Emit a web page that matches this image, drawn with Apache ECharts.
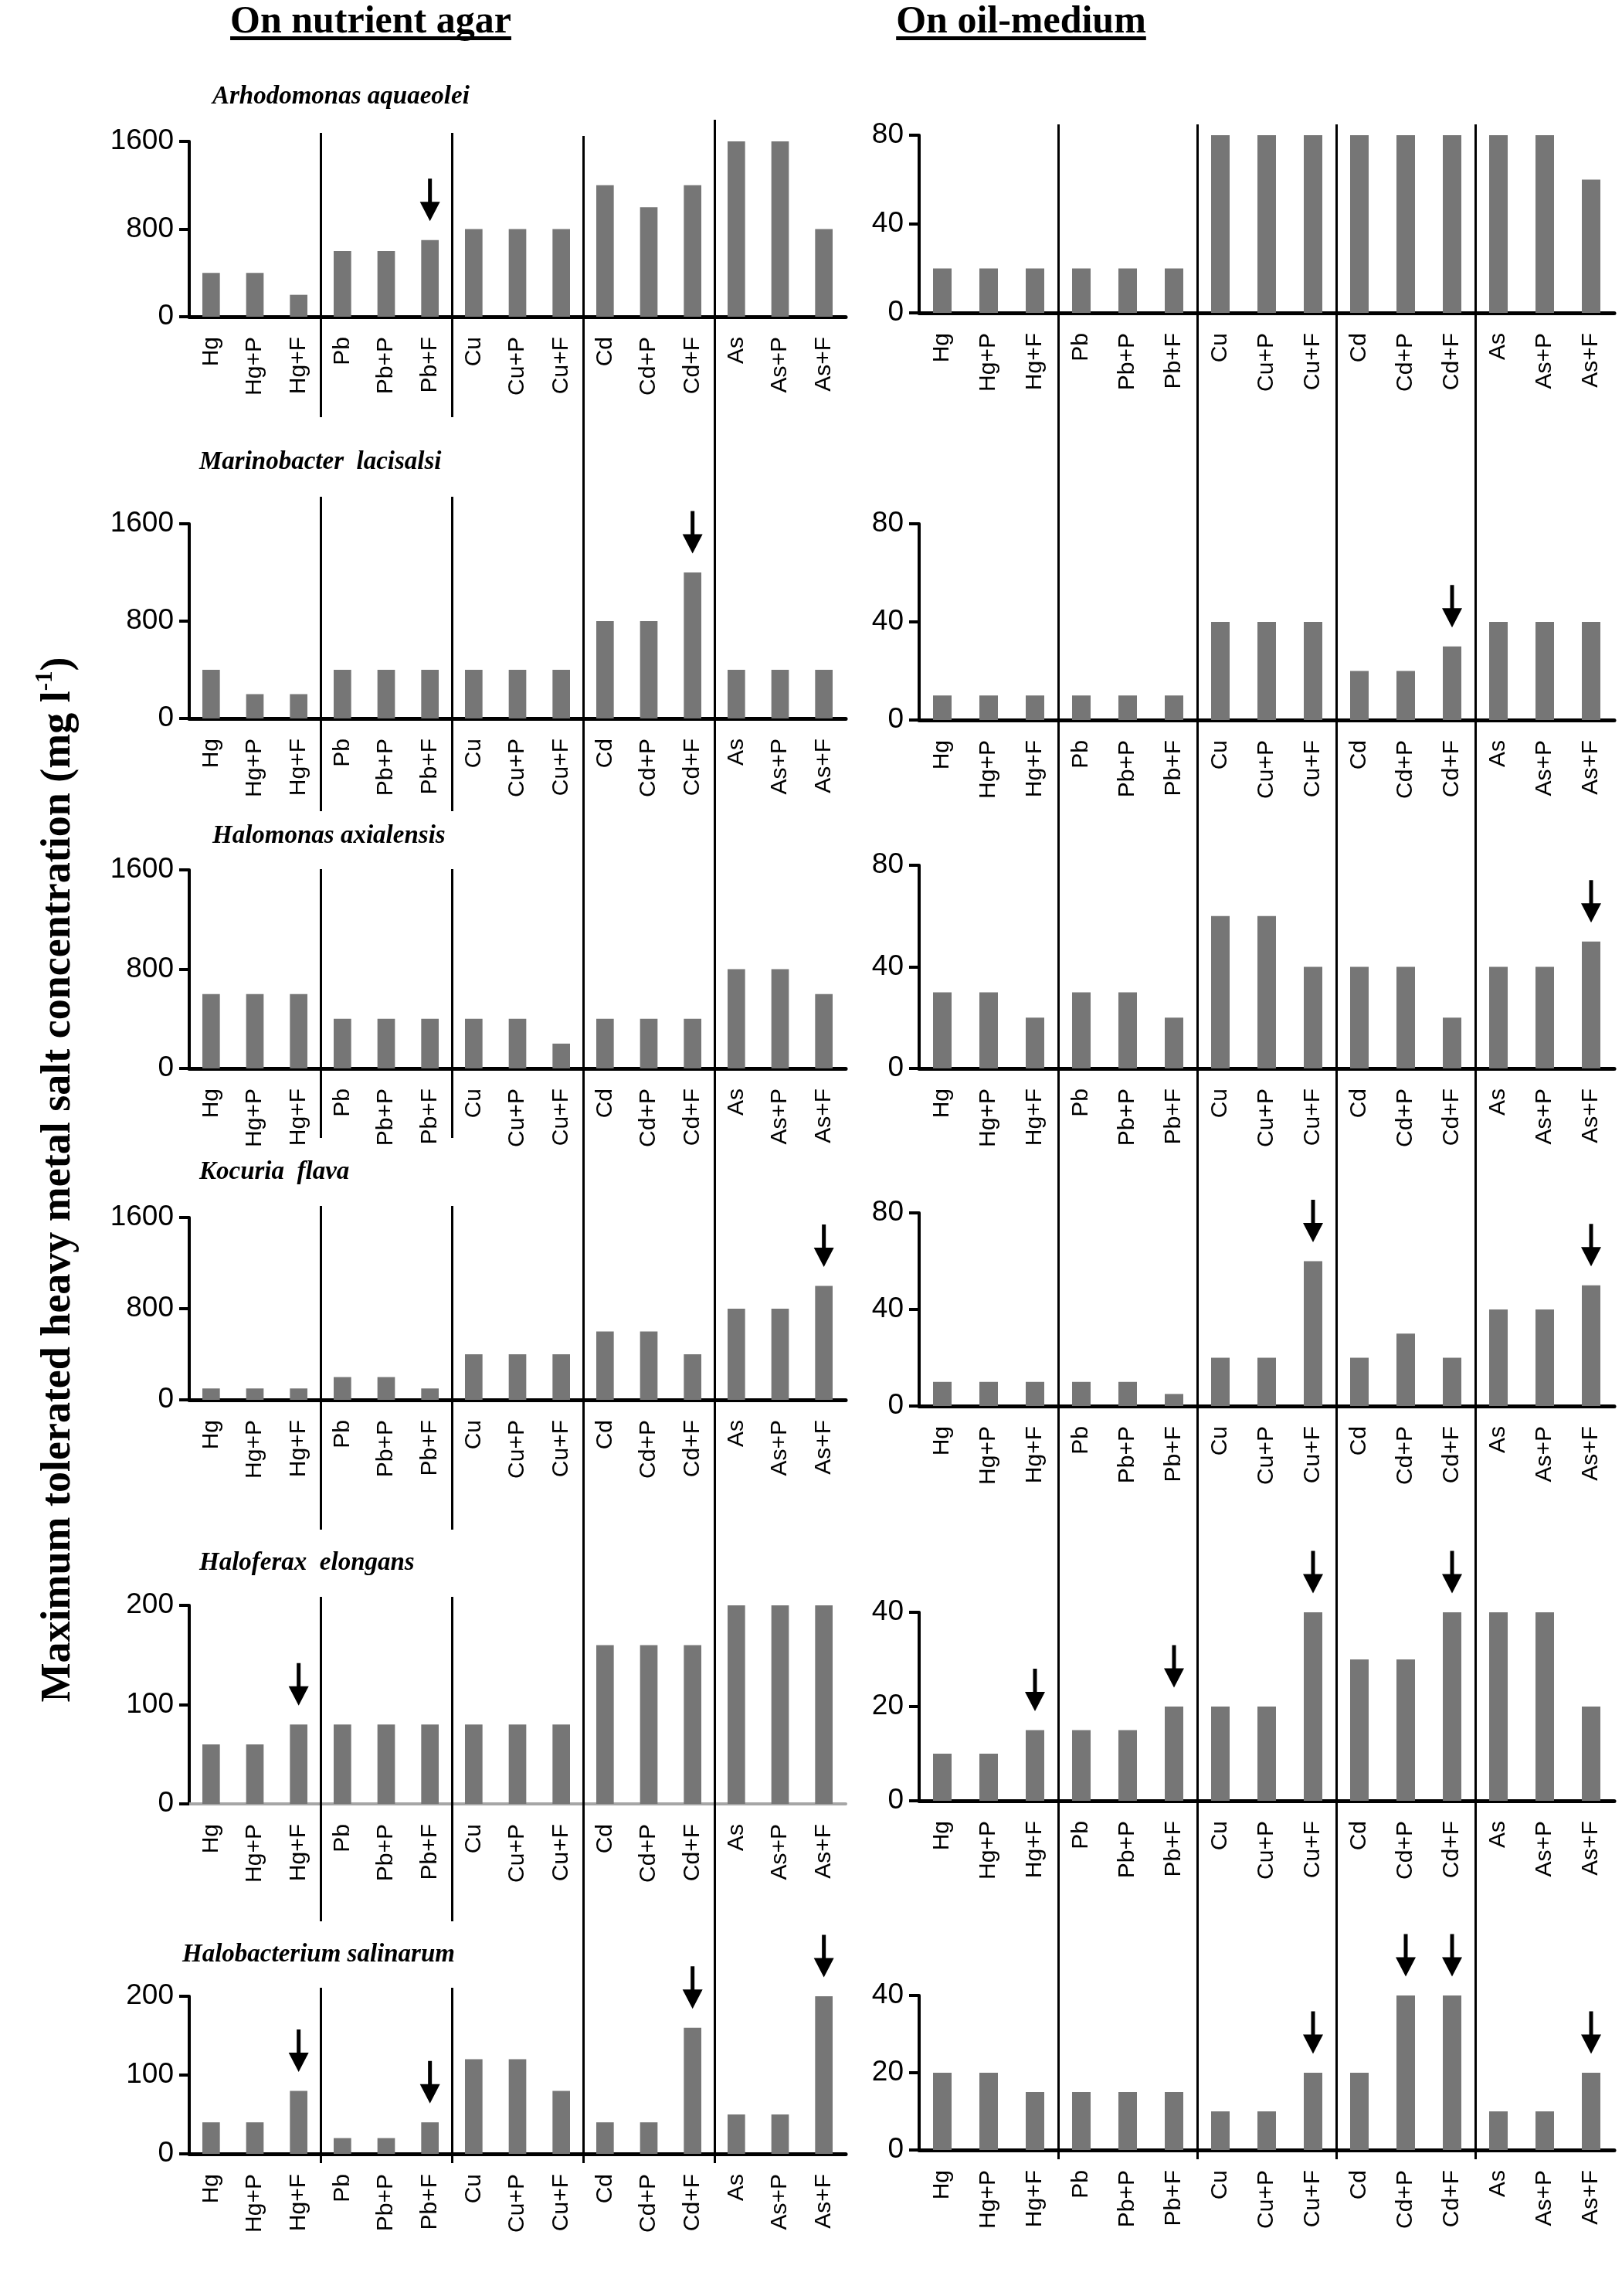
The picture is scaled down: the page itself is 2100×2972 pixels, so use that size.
<!DOCTYPE html>
<html>
<head>
<meta charset="utf-8">
<title>Maximum tolerated heavy metal salt concentration</title>
<style>
  html, body { margin: 0; padding: 0; background: #fff; }
  #main { width: 2100px; height: 2972px; }
</style>
<script src="https://cdn.jsdelivr.net/npm/echarts/dist/echarts.min.js"></script>
</head>
<body>
<div id="main"></div>
<script>
// categories (same for every panel)
var cats = ['Hg', 'Hg+P', 'Hg+F', 'Pb', 'Pb+P', 'Pb+F', 'Cu', 'Cu+P', 'Cu+F',
            'Cd', 'Cd+P', 'Cd+F', 'As', 'As+P', 'As+F'];

var species = ['Arhodomonas aquaeolei', 'Marinobacter  lacisalsi', 'Halomonas axialensis',
               'Kocuria  flava', 'Haloferax  elongans', 'Halobacterium salinarum'];

// On nutrient agar
var agar1 = [400, 400, 200, 600, 600, 700, 800, 800, 800, 1200, 1000, 1200, 1600, 1600, 800];
var agar2 = [400, 200, 200, 400, 400, 400, 400, 400, 400, 800, 800, 1200, 400, 400, 400];
var agar3 = [600, 600, 600, 400, 400, 400, 400, 400, 200, 400, 400, 400, 800, 800, 600];
var agar4 = [100, 100, 100, 200, 200, 100, 400, 400, 400, 600, 600, 400, 800, 800, 1000];
var agar5 = [60, 60, 80, 80, 80, 80, 80, 80, 80, 160, 160, 160, 200, 200, 200];
var agar6 = [40, 40, 80, 20, 20, 40, 120, 120, 80, 40, 40, 160, 50, 50, 200];

// On oil-medium
var oil1 = [20, 20, 20, 20, 20, 20, 80, 80, 80, 80, 80, 80, 80, 80, 60];
var oil2 = [10, 10, 10, 10, 10, 10, 40, 40, 40, 20, 20, 30, 40, 40, 40];
var oil3 = [30, 30, 20, 30, 30, 20, 60, 60, 40, 40, 40, 20, 40, 40, 50];
var oil4 = [10, 10, 10, 10, 10, 5, 20, 20, 60, 20, 30, 20, 40, 40, 50];
var oil5 = [10, 10, 15, 15, 15, 20, 20, 20, 40, 30, 30, 40, 40, 40, 20];
var oil6 = [20, 20, 15, 15, 15, 15, 10, 10, 20, 20, 40, 40, 10, 10, 20];

// bars marked with an arrow
var agarArrows = [['Pb+F'], ['Cd+F'], [], ['As+F'], ['Hg+F'], ['Hg+F', 'Pb+F', 'Cd+F', 'As+F']];
var oilArrows = [[], ['Cd+F'], ['As+F'], ['Cu+F', 'As+F'], ['Hg+F', 'Pb+F', 'Cu+F', 'Cd+F'],
                 ['Cu+F', 'Cd+P', 'Cd+F', 'As+F']];

// y axis maxima
var agarMax = [1600, 1600, 1600, 1600, 200, 200];
var oilMax = [80, 80, 80, 80, 40, 40];

var agarData = [agar1, agar2, agar3, agar4, agar5, agar6];
var oilData = [oil1, oil2, oil3, oil4, oil5, oil6];

// ---- layout (pixels) ----
var colL = {x: 245, w: 850}, colR = {x: 1190, w: 900};
var agarRows = [[183, 410], [678, 930], [1126, 1383], [1576, 1812], [2078, 2335], [2584, 2788]];
var oilRows = [[175, 405], [678, 932], [1120, 1383], [1570, 1820], [2087, 2331], [2583, 2783]];
var sepRowsL = [[172, 540], [643, 1050], [1125, 1473], [1561, 1980], [2067, 2487], [2573, 2800]];
var speciesPos = [[275, 125], [258, 598], [275, 1082], [258, 1517], [258, 2023], [236, 2530]];

var ARROW = 'path://M10.5,0 L15.5,0 L15.5,30 L26,30 L13,55 L0,30 L10.5,30 Z';

var grid = [], xAxis = [], yAxis = [], series = [], graphic = [];

function addPanel(col, rowY, vals, max, arrows, grayAxis) {
  var idx = grid.length;
  var axColor = grayAxis ? '#a6a6a6' : '#000';
  grid.push({
    left: col.x, top: rowY[0], width: col.w, height: rowY[1] - rowY[0],
    containLabel: false, outerBoundsMode: 'none'
  });
  xAxis.push({
    gridIndex: idx, type: 'category', data: cats,
    axisLine: {lineStyle: {color: axColor, width: grayAxis ? 4 : 5}},
    axisTick: {length: 13, lineStyle: {color: axColor, width: 4}},
    axisLabel: {interval: 0, rotate: 90, fontSize: 30, fontFamily: 'Liberation Sans', color: '#000', margin: 26},
    splitLine: {show: false}
  });
  yAxis.push({
    gridIndex: idx, type: 'value', min: 0, max: max, interval: max / 2,
    axisLine: {show: true, lineStyle: {color: '#000', width: 4}},
    axisTick: {show: true, length: 13, lineStyle: {color: '#000', width: 4}},
    axisLabel: {
      fontSize: 37, fontFamily: 'Liberation Sans', color: '#000', margin: 20,
      formatter: function(v){ return String(v); }
    },
    splitLine: {show: false}
  });
  series.push({
    type: 'bar', xAxisIndex: idx, yAxisIndex: idx, data: vals,
    barWidth: '40%', itemStyle: {color: '#767676'},
    markPoint: {
      symbol: ARROW, symbolSize: [26, 55], symbolOffset: [0, -52], symbolKeepAspect: false,
      itemStyle: {color: '#000'}, label: {show: false}, silent: true,
      data: arrows.map(function(c){
        return {coord: [c, vals[cats.indexOf(c)]]};
      })
    }
  });
}

// vertical group separators, drawn on a hidden 0..15 axis laid over the panel
function addSeps(col, y0, y1, xs) {
  var idx = grid.length;
  grid.push({left: col.x, top: y0, width: col.w, height: y1 - y0, outerBoundsMode: 'none'});
  xAxis.push({gridIndex: idx, type: 'value', min: 0, max: 15, show: false});
  yAxis.push({gridIndex: idx, type: 'value', min: 0, max: 1, show: false});
  series.push({
    type: 'line', xAxisIndex: idx, yAxisIndex: idx, data: [[0, -1]],
    showSymbol: false, silent: true, lineStyle: {opacity: 0},
    markLine: {
      silent: true, symbol: 'none', label: {show: false},
      lineStyle: {color: '#000', width: 3, type: 'solid'},
      data: xs.map(function(x){ return {xAxis: x}; })
    }
  });
}

for (var i = 0; i < 6; i++) {
  addPanel(colL, agarRows[i], agarData[i], agarMax[i], agarArrows[i], i === 4);
  addPanel(colR, oilRows[i], oilData[i], oilMax[i], oilArrows[i], false);
  addSeps(colL, sepRowsL[i][0], sepRowsL[i][1], [3, 6]);
}
addSeps(colL, 176, 2800, [9]);
addSeps(colL, 155, 2800, [12]);
addSeps(colR, 161, 2795, [3, 6, 9, 12]);

// ---- texts ----
var ctx = document.createElement('canvas').getContext('2d');
function textWidth(txt, font) {
  ctx.font = font;
  return ctx.measureText(txt).width;
}

var headFont = 'bold 50px "Liberation Serif"';
var heads = [['On nutrient agar', 480], ['On oil-medium', 1322]];
heads.forEach(function(h){
  var w = textWidth(h[0], headFont);
  graphic.push({
    type: 'text', x: h[1], y: 4,
    style: {text: h[0], font: headFont, fill: '#000', textAlign: 'center', align: 'center',
            textVerticalAlign: 'top', verticalAlign: 'top'}
  });
  graphic.push({
    type: 'rect', shape: {x: h[1] - w / 2, y: 47, width: w, height: 5},
    style: {fill: '#000'}
  });
});

species.forEach(function(s, k){
  graphic.push({
    type: 'text', x: speciesPos[k][0], y: speciesPos[k][1],
    style: {text: s, font: 'italic bold 33px "Liberation Serif"', fill: '#000',
            textAlign: 'left', align: 'left', textVerticalAlign: 'middle', verticalAlign: 'middle'}
  });
});

// y axis title with superscript
graphic.push({
  type: 'text', x: 76, y: 1527, rotation: Math.PI / 2,
  style: {
    text: '{a|Maximum tolerated heavy metal salt concentration (mg l}{s|-1}{a|)}',
    textAlign: 'center', align: 'center', textVerticalAlign: 'middle', verticalAlign: 'middle',
    fill: '#000',
    rich: {
      a: {fontSize: 54, fontWeight: 'bold', fontFamily: 'Liberation Serif', lineHeight: 66, fill: '#000'},
      s: {fontSize: 31, fontWeight: 'bold', fontFamily: 'Liberation Serif', lineHeight: 28,
          verticalAlign: 'top', fill: '#000'}
    }
  }
});

var chart = echarts.init(document.getElementById('main'), null, {renderer: 'canvas'});
chart.setOption({
  animation: false,
  backgroundColor: '#fff',
  grid: grid,
  xAxis: xAxis,
  yAxis: yAxis,
  series: series,
  graphic: graphic
});
</script>
</body>
</html>
